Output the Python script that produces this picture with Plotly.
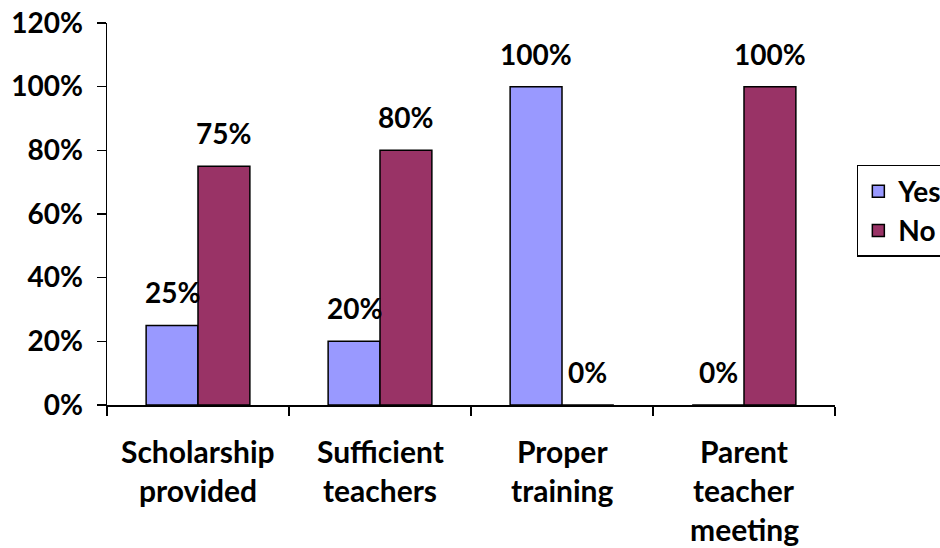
import plotly.graph_objects as go

categories = ["Scholarship\nprovided", "Sufficient\nteachers", "Proper\ntraining", "Parent\nteacher\nmeeting"]
yes_values = [25, 20, 100, 0]
no_values = [75, 80, 0, 100]
series_names = ["Yes", "No"]
y_ticks = [0, 20, 40, 60, 80, 100, 120]
y_tick_labels = ["0%", "20%", "40%", "60%", "80%", "100%", "120%"]

FONT = "Lato"
FS = 28
FS_CAT = 30
YES_COLOR = "#9999FF"
NO_COLOR = "#993366"
BARGAP = 0.43

fig = go.Figure()
for name, vals, col in [(series_names[0], yes_values, YES_COLOR), (series_names[1], no_values, NO_COLOR)]:
    fig.add_trace(go.Bar(
        name=name, x=categories, y=vals,
        marker=dict(color=col, line=dict(color="black", width=1.5)),
        hoverinfo="skip",
    ))

plot_w = 940 - 107 - 105
cat_px = plot_w / len(categories)
half_bar = (1 - BARGAP) * cat_px / 4

annotations = []
for vals, sgn in [(yes_values, -1), (no_values, 1)]:
    for c, v in zip(categories, vals):
        annotations.append(dict(
            x=c, y=v, xref="x", yref="y", text=f"{v}%", showarrow=False,
            xshift=sgn * half_bar, yshift=33, yanchor="middle",
            font=dict(family=FONT, size=FS, color="black", weight="bold"),
        ))
for c in categories:
    for i, line in enumerate(c.split("\n")):
        annotations.append(dict(
            x=c, y=0, xref="x", yref="paper", text=line, showarrow=False,
            yshift=-46 - 39 * i, yanchor="middle",
            font=dict(family=FONT, size=FS_CAT, color="black", weight="bold"),
        ))

fig.update_layout(
    width=940, height=548,
    margin=dict(l=107, r=105, t=23, b=143, autoexpand=False),
    paper_bgcolor="white", plot_bgcolor="white",
    barmode="group", bargap=BARGAP, bargroupgap=0,
    font=dict(family=FONT, size=FS, color="black", weight="bold"),
    showlegend=True,
    legend=dict(
        x=1.03, xanchor="left", y=0.508, yanchor="middle",
        bordercolor="black", borderwidth=1.5, bgcolor="white",
        font=dict(family=FONT, size=FS, color="black", weight="bold"),
    ),
    annotations=annotations,
)
fig.update_xaxes(
    type="category", showline=True, linecolor="black", linewidth=1.5,
    ticks="outside", ticklen=9, tickcolor="black", tickwidth=1.5,
    tickson="boundaries", showticklabels=False, showgrid=False, zeroline=False,
)
fig.update_yaxes(
    range=[0, 120], tickvals=y_ticks, ticktext=y_tick_labels,
    showline=True, linecolor="black", linewidth=1.5,
    ticks="outside", ticklen=9, tickcolor="black", tickwidth=1.5,
    ticklabelstandoff=8, showgrid=False, zeroline=False,
    tickfont=dict(family=FONT, size=FS, color="black", weight="bold"),
)

fig.write_html(
    "out.html",
    config={"displayModeBar": False, "staticPlot": True},
    post_script="document.body.style.margin='0';document.body.style.overflow='hidden';",
)
